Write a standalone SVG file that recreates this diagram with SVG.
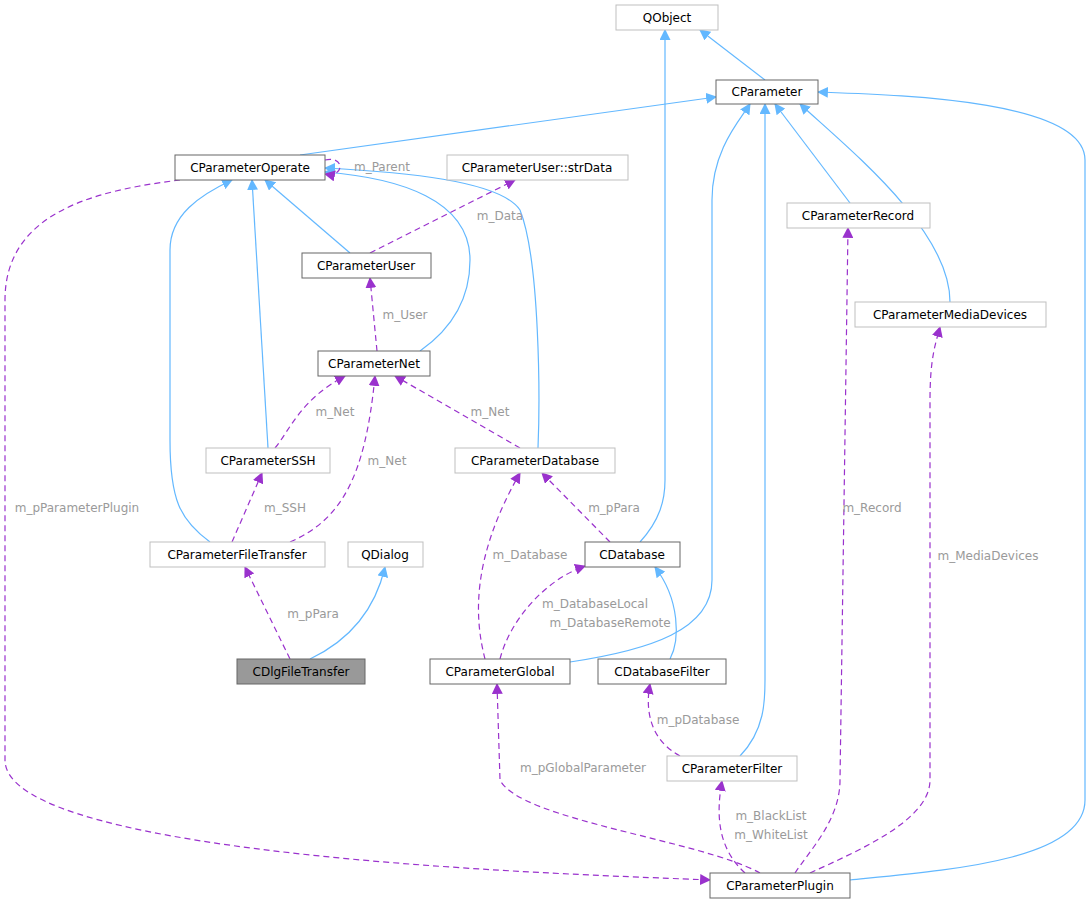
<svg xmlns="http://www.w3.org/2000/svg" width="1092" height="903" viewBox="0 0 1092 903">
<style>
text{font-family:"DejaVu Sans",sans-serif;font-size:12px;text-anchor:middle}
.n rect{fill:#fff;stroke:#666}
.g rect{fill:#fff;stroke:#bfbfbf}
.l{fill:#9a9a9a;font-size:12px}
.b{fill:none;stroke:#63b8ff;stroke-width:1.2}
.p{fill:none;stroke:#9a32cd;stroke-width:1.2;stroke-dasharray:6,4}
</style>
<defs>
<marker id="ab" viewBox="0 0 10 10" refX="9" refY="5" markerWidth="11" markerHeight="11" orient="auto" markerUnits="userSpaceOnUse"><path d="M0,0L10,5L0,10z" fill="#63b8ff"/></marker>
<marker id="ap" viewBox="0 0 10 10" refX="9" refY="5" markerWidth="11" markerHeight="11" orient="auto" markerUnits="userSpaceOnUse"><path d="M0,0L10,5L0,10z" fill="#9a32cd"/></marker>
</defs>
<rect width="1092" height="903" fill="#fff"/>
<g id="edges">
<path class="b" marker-end="url(#ab)" d="M765,80L700,30"/>
<path class="b" marker-end="url(#ab)" d="M640,542C660,520 665,500 665,480L665,30"/>
<path class="b" marker-end="url(#ab)" d="M300,155L716,97"/>
<path class="b" marker-end="url(#ab)" d="M850,203L775,104"/>
<path class="b" marker-end="url(#ab)" d="M950,302C950,230 850,150 800,104"/>
<path class="b" marker-end="url(#ab)" d="M570,662C650,650 712,630 712,580L712,200C712,150 740,120 750,104"/>
<path class="b" marker-end="url(#ab)" d="M740,756C765,730 765,700 765,680L765,104"/>
<path class="b" marker-end="url(#ab)" d="M850,880C950,870 1085,860 1085,800L1085,160C1085,100 900,95 818,92"/>
<path class="b" marker-end="url(#ab)" d="M350,253L265,180"/>
<path class="b" marker-end="url(#ab)" d="M420,351C450,330 470,300 470,260C470,200 400,178 325,172"/>
<path class="b" marker-end="url(#ab)" d="M268,448L252,180"/>
<path class="b" marker-end="url(#ab)" d="M538,448C540,400 540,260 520,210C500,180 400,172 325,168"/>
<path class="b" marker-end="url(#ab)" d="M210,542C180,520 170,500 170,440L170,250C170,215 200,195 232,180"/>
<path class="b" marker-end="url(#ab)" d="M310,659C350,640 375,610 385,567"/>
<path class="b" marker-end="url(#ab)" d="M670,659C680,640 680,600 655,567"/>
<path class="p" marker-end="url(#ap)" d="M325,160C345,155 345,178 325,174"/>
<path class="p" marker-end="url(#ap)" d="M370,253L515,180"/>
<path class="p" marker-end="url(#ap)" d="M377,351L370,278"/>
<path class="p" marker-end="url(#ap)" d="M275,448C290,430 300,400 345,376"/>
<path class="p" marker-end="url(#ap)" d="M290,542C340,520 365,480 375,376"/>
<path class="p" marker-end="url(#ap)" d="M520,448L395,376"/>
<path class="p" marker-end="url(#ap)" d="M232,542L262,473"/>
<path class="p" marker-end="url(#ap)" d="M290,659L245,567"/>
<path class="p" marker-end="url(#ap)" d="M610,542L542,473"/>
<path class="p" marker-end="url(#ap)" d="M485,659C475,620 470,560 520,473"/>
<path class="p" marker-end="url(#ap)" d="M500,659C510,620 545,580 585,566"/>
<path class="p" marker-end="url(#ap)" d="M760,873C700,840 520,820 500,780L497,684"/>
<path class="p" marker-end="url(#ap)" d="M680,756C650,740 645,710 650,684"/>
<path class="p" marker-end="url(#ap)" d="M745,873C720,850 715,820 722,781"/>
<path class="p" marker-end="url(#ap)" d="M795,873C810,850 840,820 840,780L848,228"/>
<path class="p" marker-end="url(#ap)" d="M810,873C860,850 930,820 930,780L930,400C930,360 935,345 940,327"/>
<path class="p" marker-end="url(#ap)" d="M180,180C100,190 5,210 5,300L5,760C5,860 600,875 710,880"/>
<text class="l" x="382" y="171">m_Parent</text>
<text class="l" x="500" y="220">m_Data</text>
<text class="l" x="405" y="319">m_User</text>
<text class="l" x="335" y="416">m_Net</text>
<text class="l" x="387" y="465">m_Net</text>
<text class="l" x="490" y="416">m_Net</text>
<text class="l" x="285" y="512">m_SSH</text>
<text class="l" x="313" y="618">m_pPara</text>
<text class="l" x="614" y="512">m_pPara</text>
<text class="l" x="530" y="559">m_Database</text>
<text class="l" x="595" y="608">m_DatabaseLocal</text>
<text class="l" x="610" y="627">m_DatabaseRemote</text>
<text class="l" x="583" y="772">m_pGlobalParameter</text>
<text class="l" x="698" y="724">m_pDatabase</text>
<text class="l" x="771" y="820">m_BlackList</text>
<text class="l" x="771" y="839">m_WhiteList</text>
<text class="l" x="872" y="512">m_Record</text>
<text class="l" x="988" y="560">m_MediaDevices</text>
<text class="l" x="77" y="512">m_pParameterPlugin</text>
</g>
<g id="QObject" class="g"><rect x="616" y="5" width="102" height="25"/><text x="667" y="22">QObject</text></g>
<g id="CParameter" class="n"><rect x="716" y="80" width="102" height="24"/><text x="767" y="96">CParameter</text></g>
<g id="CParameterOperate" class="n"><rect x="175" y="155" width="150" height="25"/><text x="250" y="172">CParameterOperate</text></g>
<g id="strData" class="g"><rect x="447" y="155" width="181" height="25"/><text x="537" y="172">CParameterUser::strData</text></g>
<g id="CParameterRecord" class="g"><rect x="787" y="203" width="143" height="25"/><text x="858" y="220">CParameterRecord</text></g>
<g id="CParameterUser" class="n"><rect x="302" y="253" width="129" height="25"/><text x="366" y="270">CParameterUser</text></g>
<g id="CParameterMediaDevices" class="g"><rect x="855" y="302" width="191" height="25"/><text x="950" y="319">CParameterMediaDevices</text></g>
<g id="CParameterNet" class="n"><rect x="318" y="351" width="112" height="25"/><text x="374" y="368">CParameterNet</text></g>
<g id="CParameterSSH" class="g"><rect x="206" y="448" width="124" height="25"/><text x="268" y="465">CParameterSSH</text></g>
<g id="CParameterDatabase" class="g"><rect x="455" y="448" width="160" height="25"/><text x="535" y="465">CParameterDatabase</text></g>
<g id="CParameterFileTransfer" class="g"><rect x="150" y="542" width="175" height="25"/><text x="237" y="559">CParameterFileTransfer</text></g>
<g id="QDialog" class="g"><rect x="348" y="542" width="75" height="25"/><text x="385" y="559">QDialog</text></g>
<g id="CDatabase" class="n"><rect x="585" y="542" width="95" height="25"/><text x="632" y="559">CDatabase</text></g>
<g id="CDlgFileTransfer" class="n"><rect x="237" y="659" width="128" height="25" style="fill:#999"/><text x="301" y="676">CDlgFileTransfer</text></g>
<g id="CParameterGlobal" class="n"><rect x="430" y="659" width="140" height="25"/><text x="500" y="676">CParameterGlobal</text></g>
<g id="CDatabaseFilter" class="n"><rect x="598" y="659" width="128" height="25"/><text x="662" y="676">CDatabaseFilter</text></g>
<g id="CParameterFilter" class="g"><rect x="667" y="756" width="130" height="25"/><text x="732" y="773">CParameterFilter</text></g>
<g id="CParameterPlugin" class="n"><rect x="710" y="873" width="140" height="25"/><text x="780" y="890">CParameterPlugin</text></g>
</svg>
